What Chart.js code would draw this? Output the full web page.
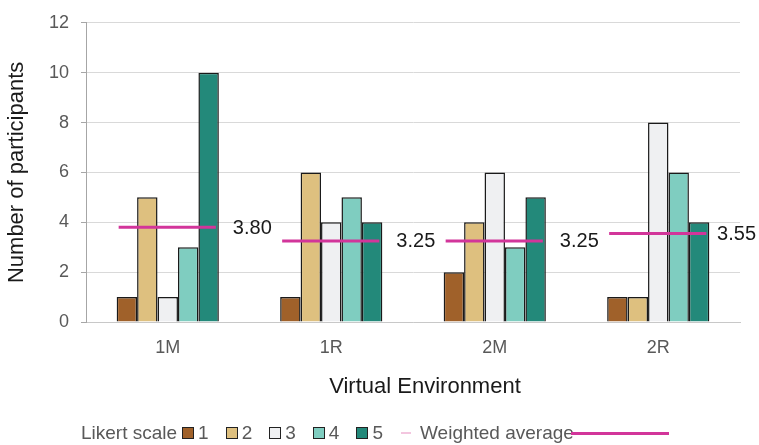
<!DOCTYPE html>
<html>
<head>
<meta charset="utf-8">
<script src="https://cdn.jsdelivr.net/npm/chart.js@4.4.1/dist/chart.umd.min.js"></script>
<style>
  html, body { margin: 0; padding: 0; background: #ffffff; }
  #wrap { position: relative; width: 759px; height: 445px; overflow: hidden; }
  #c { position: absolute; left: 0; top: 0; }
  #xtitle {
    position: absolute; left: 225px; width: 400px; top: 375px; text-align: center;
    font-family: "Liberation Sans", Arial, sans-serif; font-size: 22px; line-height: 22px; color: #1a1a1a;
  }
  #legend {
    position: absolute; left: 81px; top: 422px; height: 22px;
    display: flex; align-items: center; white-space: nowrap;
    font-family: "Liberation Sans", Arial, sans-serif; font-size: 19px; color: #595959;
  }
  #legend .lead { margin-right: 5px; }
  #legend .box { width: 10px; height: 10px; border: 1px solid #222; box-sizing: content-box; margin-right: 4px; }
  #legend .item { margin-right: 17px; }
  #legend .dash { width: 10px; height: 2px; background: #f3c6df; margin-left: 1px; margin-right: 9px; }
  #legend .line { width: 98px; height: 3px; background: #d2359a; margin-left: -3px; }
</style>
</head>
<body>
<div id="wrap">
  <canvas id="c" width="759" height="445"></canvas>
  <div id="xtitle">Virtual Environment</div>
  <div id="legend"></div>
</div>
<script>
// Participants per Likert score in each virtual environment
const environments = ["1M", "1R", "2M", "2R"];
const likertLabels = ["1", "2", "3", "4", "5"];
const score1 = [1, 1, 2, 1];
const score2 = [5, 6, 4, 1];
const score3 = [1, 4, 6, 8];
const score4 = [3, 5, 3, 6];
const score5 = [10, 4, 5, 4];
const weightedAverage = [3.80, 3.25, 3.25, 3.55];
const yTicks = [0, 2, 4, 6, 8, 10, 12];

const seriesValues = [score1, score2, score3, score4, score5];
const seriesColors = ["#a0612a", "#dec07f", "#eff0f2", "#7fcdc0", "#23897a"];

const FONT = "'Liberation Sans', Arial, sans-serif";

// Horizontal weighted-average segment across each group, with its value to the right
const averagePlugin = {
  id: "weightedAverage",
  afterDatasetsDraw(chart) {
    const ctx = chart.ctx;
    const y = chart.scales.y;
    const first = chart.getDatasetMeta(0);
    const last = chart.getDatasetMeta(seriesValues.length - 1);
    ctx.save();
    ctx.font = "20px " + FONT;
    weightedAverage.forEach((v, i) => {
      const b0 = first.data[i], b4 = last.data[i];
      const x0 = b0.x - b0.width / 2 + 2;
      const x1 = b4.x + b4.width / 2 - 3;
      const py = y.getPixelForValue(v);
      ctx.strokeStyle = "#d2359a";
      ctx.lineWidth = 3;
      ctx.beginPath();
      ctx.moveTo(x0, py);
      ctx.lineTo(x1, py);
      ctx.stroke();
      const text = v.toFixed(2);
      const tw = ctx.measureText(text).width;
      const tx = Math.min(x1 + 17, chart.width - tw - 3);
      ctx.fillStyle = "#1a1a1a";
      ctx.textAlign = "left";
      ctx.textBaseline = "middle";
      ctx.fillText(text, tx, py + 1);
    });
    ctx.restore();
  }
};

new Chart(document.getElementById("c"), {
  type: "bar",
  data: {
    labels: environments,
    datasets: seriesValues.map((vals, i) => ({
      label: likertLabels[i],
      data: vals,
      backgroundColor: seriesColors[i],
      borderColor: "#1a1a1a",
      borderWidth: 1.5,
      barPercentage: 1,
      categoryPercentage: 0.625
    }))
  },
  options: {
    responsive: false,
    animation: false,
    devicePixelRatio: 1,
    layout: { padding: { top: 14, right: 19, bottom: 43, left: 0 } },
    plugins: { legend: { display: false }, tooltip: { enabled: false } },
    scales: {
      x: {
        grid: { display: false, drawTicks: false },
        border: { display: true, color: "#c8c8c8", width: 1 },
        ticks: { color: "#595959", font: { family: FONT, size: 18 }, padding: 15 },
        title: { display: false },
        afterFit(scale) { scale.height = 80; }
      },
      y: {
        min: 0, max: 12,
        afterBuildTicks(scale) { scale.ticks = yTicks.map(v => ({ value: v })); },
        grid: { color: "#d9d9d9", tickColor: "#a6a6a6", tickLength: 5, lineWidth: 1 },
        border: { display: true, color: "#a6a6a6", width: 1 },
        ticks: { color: "#595959", font: { family: FONT, size: 18 }, padding: 12 },
        title: { display: true, text: "Number of participants", color: "#1a1a1a", font: { family: FONT, size: 22 }, padding: { top: 4, bottom: 0 } },
        afterFit(scale) { scale.width = 86; }
      }
    }
  },
  plugins: [averagePlugin]
});

// Legend row built from the series names and colours
const legend = document.getElementById("legend");
const lead = document.createElement("span");
lead.className = "lead";
lead.textContent = "Likert scale";
legend.appendChild(lead);
likertLabels.forEach((name, i) => {
  const box = document.createElement("span");
  box.className = "box";
  box.style.background = seriesColors[i];
  legend.appendChild(box);
  const t = document.createElement("span");
  t.className = "item";
  t.textContent = name;
  legend.appendChild(t);
});
const dash = document.createElement("span");
dash.className = "dash";
legend.appendChild(dash);
const wa = document.createElement("span");
wa.textContent = "Weighted average";
legend.appendChild(wa);
const ln = document.createElement("span");
ln.className = "line";
legend.appendChild(ln);
</script>
</body>
</html>
